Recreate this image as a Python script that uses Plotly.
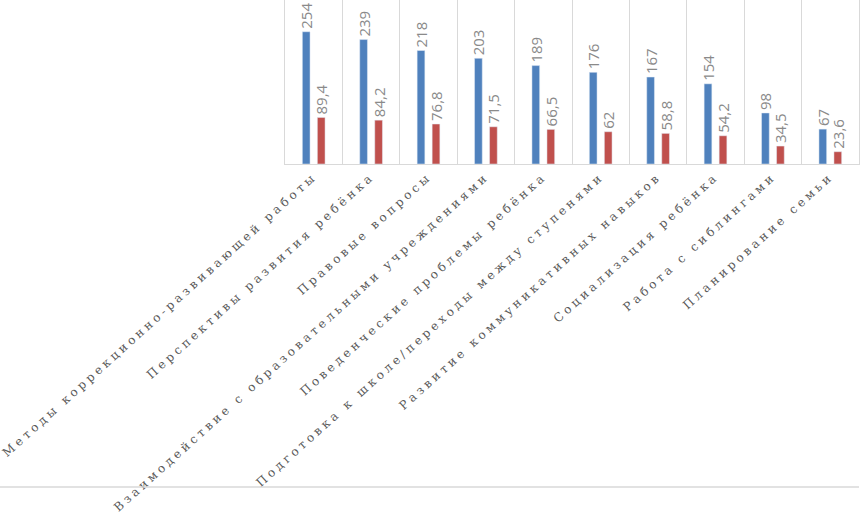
import plotly.graph_objects as go

categories = [
    "Методы коррекционно-развивающей работы",
    "Перспективы развития ребёнка",
    "Правовые вопросы",
    "Взаимодействие с образовательными учреждениями",
    "Поведенческие проблемы ребёнка",
    "Подготовка к школе/переходы между ступенями",
    "Развитие коммуникативных навыков",
    "Социализация ребёнка",
    "Работа с сиблингами",
    "Планирование семьи",
]
series_a = [254, 239, 218, 203, 189, 176, 167, 154, 98, 67]
series_b = [89.4, 84.2, 76.8, 71.5, 66.5, 62, 58.8, 54.2, 34.5, 23.6]


def fmt(v):
    return (("%g" % v)).replace(".", ",")


label_font = dict(family="Open Sans", size=15, color="#8a8a8a")

fig = go.Figure()
fig.add_trace(go.Bar(
    x=categories, y=series_a, name="Ряд 1",
    marker_color="#4f81bd",
    text=[fmt(v) for v in series_a], textposition="outside",
    textangle=-90, textfont=label_font, constraintext="none",
    cliponaxis=False,
))
fig.add_trace(go.Bar(
    x=categories, y=series_b, name="Ряд 2",
    marker_color="#c0504d",
    text=[fmt(v) for v in series_b], textposition="outside",
    textangle=-90, textfont=label_font, constraintext="none",
    cliponaxis=False,
))

fig.update_layout(
    width=860, height=520,
    margin=dict(l=285, r=1, t=0, b=356, autoexpand=False),
    barmode="group", bargap=0.477, bargroupgap=0.487,
    showlegend=False,
    paper_bgcolor="white", plot_bgcolor="white",
    xaxis=dict(
        tickson="boundaries", showgrid=True, gridcolor="#d9d9d9",
        showline=True, linecolor="#d9d9d9", linewidth=1,
        tickangle=-42, ticks="", automargin=False,
        tickfont=dict(family="DejaVu Serif", size=12, color="#595959"),
    ),
    yaxis=dict(
        range=[0, 315], showgrid=False, showticklabels=False,
        zeroline=False, showline=True, linecolor="#d9d9d9", mirror=True,
    ),
    shapes=[dict(
        type="line", xref="paper", yref="paper",
        x0=-285 / 574, x1=1.0, y0=-323 / 164, y1=-323 / 164,
        line=dict(color="#d9d9d9", width=1.5),
    )],
)

# page margin off, wide tracking on the category labels
page_js = """
document.body.style.margin = '0';
document.querySelectorAll('.xtick text').forEach(function (t) {
    t.style.letterSpacing = '3.5px';
});
"""

fig.write_html("out.html", post_script=page_js,
               config={"displayModeBar": False})
